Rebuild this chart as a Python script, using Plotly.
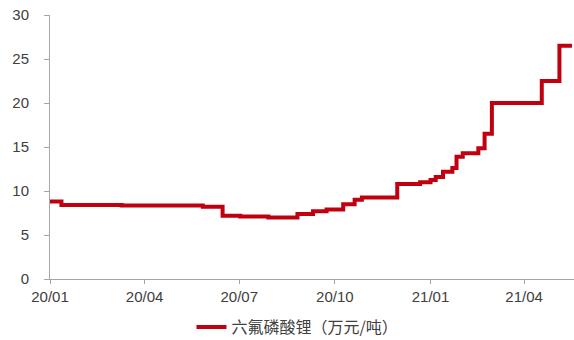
import plotly.graph_objects as go

# Step dates and price levels (10k CNY per tonne)
dates = [
    "2020-01-01", "2020-01-12", "2020-03-10", "2020-05-27", "2020-06-15",
    "2020-07-02", "2020-07-29", "2020-08-26", "2020-09-10", "2020-09-23",
    "2020-10-09", "2020-10-20", "2020-10-27", "2020-11-30", "2020-12-22",
    "2021-01-01", "2021-01-06", "2021-01-13", "2021-01-22", "2021-01-26",
    "2021-02-01", "2021-02-16", "2021-02-22", "2021-03-01", "2021-04-18",
    "2021-05-05", "2021-05-17",
]
prices = [
    8.8, 8.4, 8.35, 8.2, 7.2,
    7.1, 7.0, 7.4, 7.7, 7.9,
    8.5, 9.0, 9.25, 10.8, 11.0,
    11.25, 11.6, 12.2, 12.6, 13.9,
    14.3, 14.85, 16.5, 20.0, 22.5,
    26.5, 26.5,
]

series_name = "六氟磷酸锂（万元/吨）"
tick_dates = ["2020-01-01", "2020-04-01", "2020-07-01", "2020-10-01", "2021-01-01", "2021-04-01"]
tick_text = ["20/01", "20/04", "20/07", "20/10", "21/01", "21/04"]
y_ticks = [0, 5, 10, 15, 20, 25, 30]

fig = go.Figure()
fig.add_trace(go.Scatter(
    x=dates, y=prices, name=series_name, mode="lines",
    line=dict(color="#C0000F", width=4, shape="hv"),
))

axis_font = dict(family="Liberation Sans, Arial, sans-serif", size=15, color="#404040")

fig.update_layout(
    width=574, height=340,
    margin=dict(l=50, r=0, t=15, b=61, autoexpand=False),
    paper_bgcolor="white", plot_bgcolor="white",
    showlegend=True,
    legend=dict(
        orientation="h", x=0.27, xanchor="left",
        yref="container", y=0.038, yanchor="middle",
        font=dict(family="Noto Sans CJK SC", size=16, color="#404040"),
        bgcolor="rgba(0,0,0,0)",
    ),
    xaxis=dict(
        type="date", range=["2020-01-01", "2021-05-19"],
        tickvals=tick_dates, ticktext=tick_text,
        showgrid=False, zeroline=False,
        showline=True, linecolor="#A6A6A6", linewidth=1,
        ticks="outside", ticklen=4, tickcolor="#A6A6A6",
        tickfont=axis_font,
    ),
    yaxis=dict(
        range=[0, 30], tickvals=y_ticks,
        showgrid=False, zeroline=False,
        showline=True, linecolor="#A6A6A6", linewidth=1,
        ticks="outside", ticklen=5, tickcolor="#A6A6A6",
        ticklabelstandoff=12,
        tickfont=axis_font,
    ),
)

fig.write_html("out.html")
